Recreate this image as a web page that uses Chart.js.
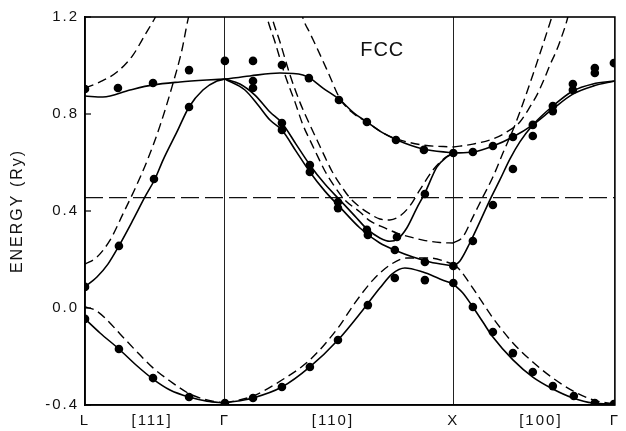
<!DOCTYPE html>
<html><head><meta charset="utf-8">
<script src="https://cdn.jsdelivr.net/npm/chart.js@4/dist/chart.umd.min.js"></script>
<style>html,body{margin:0;padding:0;background:#fff}</style>
</head><body>
<canvas id="c" width="626" height="431"></canvas>
<script>
// symmetry points along k path (units of 2π/a) and their labels
const kSym = [0, 0.415, 0.866, 1.535, 2.28, 2.822, 3.28];
const kLabels = ['L', '[111]', 'Γ', '[110]', 'X', '[100]', 'Γ'];
const eTicks = [-0.4, 0.0, 0.4, 0.8, 1.2];
const fermiE = 0.455;
const fermiLine = [[0, fermiE], [3.28, fermiE]];

// solid bands [k, E(Ry)]
const solidLGlow = [[0,-0.045],[0.093,-0.103],[0.21,-0.169],[0.316,-0.235],[0.421,-0.293],[0.526,-0.338],[0.644,-0.367],[0.755,-0.384],[0.866,-0.392]];
const solidLGmid = [[0,0.087],[0.074,0.128],[0.142,0.181],[0.21,0.256],[0.297,0.363],[0.371,0.458],[0.433,0.532],[0.483,0.610],[0.569,0.726],[0.644,0.829],[0.73,0.899],[0.817,0.936],[0.866,0.944]];
const solidLGtop = [[0,0.874],[0.111,0.870],[0.278,0.899],[0.421,0.920],[0.588,0.932],[0.755,0.940],[0.866,0.944]];
const solidGXtop = [[0.866,0.944],[1.021,0.957],[1.207,0.969],[1.349,0.961],[1.392,0.948],[1.473,0.907],[1.578,0.858],[1.658,0.808],[1.745,0.767],[1.844,0.722],[1.931,0.693],[2.092,0.656],[2.28,0.639]];
const solidGXc = [[0.866,0.944],[0.959,0.924],[1.052,0.878],[1.145,0.808],[1.219,0.763],[1.306,0.676],[1.392,0.590],[1.485,0.511],[1.578,0.445],[1.671,0.379],[1.745,0.326],[1.825,0.289],[1.887,0.275],[1.936,0.285],[1.992,0.330],[2.054,0.412],[2.104,0.474],[2.178,0.581],[2.240,0.623],[2.28,0.639]];
const solidGXd = [[0.866,0.944],[0.990,0.899],[1.071,0.837],[1.145,0.775],[1.219,0.734],[1.306,0.647],[1.392,0.561],[1.485,0.482],[1.578,0.416],[1.702,0.330],[1.825,0.268],[1.931,0.235],[2.030,0.210],[2.135,0.190],[2.28,0.173]];
const solidGXlow = [[0.866,-0.392],[1.040,-0.371],[1.219,-0.326],[1.392,-0.243],[1.566,-0.132],[1.720,-0.008],[1.825,0.082],[1.900,0.140],[1.980,0.165],[2.092,0.148],[2.197,0.120],[2.28,0.099]];
const solidXGlow = [[2.28,0.099],[2.339,0.062],[2.401,0.004],[2.463,-0.058],[2.525,-0.120],[2.649,-0.214],[2.772,-0.285],[2.896,-0.334],[3.020,-0.371],[3.144,-0.392],[3.28,-0.396]];
const solidXGrise = [[2.28,0.173],[2.321,0.194],[2.382,0.268],[2.444,0.355],[2.506,0.445],[2.568,0.528],[2.630,0.614],[2.692,0.685],[2.772,0.755],[2.896,0.833],[3.020,0.895],[3.144,0.924],[3.28,0.936]];
const solidXGtop = [[2.28,0.639],[2.401,0.643],[2.525,0.668],[2.649,0.705],[2.772,0.755],[2.896,0.821],[3.020,0.882],[3.144,0.915],[3.28,0.936]];

// dashed bands [k, E(Ry)]
const dashLGlow = [[0,0.004],[0.062,-0.008],[0.124,-0.041],[0.217,-0.107],[0.322,-0.181],[0.421,-0.247],[0.526,-0.301],[0.65,-0.355],[0.755,-0.379],[0.866,-0.392]];
const dashLGmid = [[0,0.181],[0.074,0.21],[0.155,0.28],[0.235,0.388],[0.309,0.491],[0.384,0.606],[0.464,0.751],[0.538,0.911],[0.6,1.064],[0.637,1.188],[0.656,1.237]];
const dashLGtop = [[0,0.907],[0.093,0.932],[0.198,0.973],[0.297,1.043],[0.371,1.126],[0.433,1.196],[0.464,1.237]];
const dashGXtop = [[1.337,1.229],[1.349,1.196],[1.392,1.134],[1.436,1.072],[1.504,0.973],[1.578,0.864],[1.658,0.804],[1.745,0.767],[1.844,0.722],[1.931,0.697],[2.092,0.672],[2.28,0.664]];
const dashGXa = [[1.145,1.237],[1.157,1.2],[1.207,1.097],[1.269,0.961],[1.330,0.849],[1.392,0.755],[1.436,0.693],[1.485,0.623],[1.528,0.565],[1.578,0.511],[1.640,0.454],[1.702,0.416],[1.764,0.388],[1.825,0.367],[1.887,0.363],[1.949,0.379],[2.011,0.421],[2.073,0.487],[2.154,0.569],[2.228,0.619],[2.28,0.639]];
const dashGXb = [[1.114,1.237],[1.126,1.2],[1.176,1.097],[1.238,0.961],[1.300,0.849],[1.349,0.755],[1.392,0.693],[1.442,0.623],[1.485,0.565],[1.535,0.511],[1.609,0.445],[1.702,0.396],[1.764,0.359],[1.856,0.330],[1.931,0.309],[2.011,0.293],[2.092,0.280],[2.197,0.270],[2.28,0.268]];
const dashGXhump = [[0.866,-0.392],[1.040,-0.363],[1.219,-0.297],[1.392,-0.214],[1.566,-0.082],[1.671,0.021],[1.782,0.115],[1.887,0.177],[1.993,0.206],[2.135,0.206],[2.28,0.181]];
const dashXGlow = [[2.28,0.181],[2.321,0.157],[2.401,0.082],[2.525,-0.041],[2.649,-0.144],[2.772,-0.223],[2.896,-0.289],[3.020,-0.342],[3.144,-0.379],[3.28,-0.396]];
const dashXGtop = [[2.28,0.664],[2.401,0.676],[2.525,0.697],[2.611,0.726],[2.692,0.767],[2.754,0.829],[2.797,0.878],[2.840,0.940],[2.878,1.002],[2.915,1.056],[2.939,1.097],[2.989,1.2],[3.001,1.237]];
const dashXGb = [[2.28,0.268],[2.339,0.293],[2.401,0.375],[2.463,0.458],[2.525,0.540],[2.587,0.639],[2.649,0.734],[2.692,0.808],[2.772,0.961],[2.834,1.085],[2.890,1.2],[2.908,1.237]];

// dots [k, E(Ry)]
const dotPts = [
[0,0.903],[0.204,0.907],[0.421,0.928],[0.644,0.981],[0.866,1.019],
[0,0.087],[0.21,0.256],[0.427,0.532],[0.644,0.829],
[0,-0.045],[0.21,-0.169],[0.421,-0.289],[0.644,-0.367],[0.866,-0.392],
[1.040,1.019],[1.219,1.002],[1.386,0.948],[1.572,0.858],[1.745,0.767],[1.925,0.693],[2.098,0.652],[2.28,0.639],
[1.040,0.936],[1.040,0.907],
[1.219,0.763],[1.219,0.734],[1.392,0.590],[1.392,0.561],[1.566,0.437],[1.566,0.412],[1.745,0.322],[1.751,0.301],[1.931,0.293],[1.918,0.239],[2.104,0.470],[2.104,0.190],[2.28,0.173],
[1.040,-0.371],[1.219,-0.326],[1.392,-0.243],[1.566,-0.132],[1.751,0.012],[1.918,0.124],[2.104,0.115],[2.28,0.103],
[2.401,0.643],[2.525,0.668],[2.649,0.705],[2.772,0.755],[2.772,0.709],[2.896,0.833],[2.896,0.812],[3.020,0.924],[3.020,0.899],[3.156,0.990],[3.156,0.969],[3.274,1.010],
[2.401,0.276],[2.525,0.425],[2.649,0.573],
[2.401,0.004],[2.525,-0.099],[2.649,-0.186],[2.772,-0.264],[2.896,-0.322],[3.026,-0.363],[3.156,-0.392],[3.274,-0.396]
];

const solidCurves = [solidLGlow, solidLGmid, solidLGtop, solidGXtop, solidGXc, solidGXd, solidGXlow, solidXGlow, solidXGrise, solidXGtop];
const dashCurves = [dashLGlow, dashLGmid, dashLGtop, dashGXtop, dashGXa, dashGXb, dashGXhump, dashXGlow, dashXGtop, dashXGb];

const xy = arr => arr.map(p => ({x: p[0], y: p[1]}));
const datasets = [];
datasets.push({data: xy(dotPts), showLine: false, pointRadius: 4.3, pointBackgroundColor: '#000', pointBorderWidth: 0});
solidCurves.forEach(c => datasets.push({data: xy(c), showLine: true, borderColor: '#000', borderWidth: 1.6, pointRadius: 0, cubicInterpolationMode: 'monotone', capBezierPoints: false}));
dashCurves.forEach(c => datasets.push({data: xy(c), showLine: true, borderColor: '#000', borderWidth: 1.4, borderDash: [9, 5], pointRadius: 0, cubicInterpolationMode: 'monotone', capBezierPoints: false}));
datasets.push({data: xy(fermiLine), showLine: true, borderColor: '#111', borderWidth: 1.3, borderDash: [18, 6], pointRadius: 0});

Chart.defaults.font.family = "'Liberation Sans', Arial, Helvetica, sans-serif";
Chart.defaults.color = '#111';

const decor = {
  id: 'decor',
  beforeDraw(chart) {
    const ctx = chart.ctx;
    ctx.fillStyle = '#fff';
    ctx.fillRect(0, 0, chart.width, chart.height);
    ctx.letterSpacing = '2px';
  },
  afterDraw(chart) {
    const ctx = chart.ctx, a = chart.chartArea;
    const xs = chart.scales.x, ys = chart.scales.y;
    ctx.save();
    ctx.strokeStyle = '#000';
    ctx.lineWidth = 1.6;
    ctx.strokeRect(a.left, a.top, a.right - a.left, a.bottom - a.top);
    ctx.lineWidth = 1.2;
    eTicks.forEach(v => {
      const py = ys.getPixelForValue(v);
      ctx.beginPath(); ctx.moveTo(a.left, py); ctx.lineTo(a.left + 6, py); ctx.stroke();
    });
    ctx.letterSpacing = '1px';
    ctx.fillStyle = '#111';
    ctx.font = "20px 'Liberation Sans', Arial, sans-serif";
    ctx.textAlign = 'center';
    ctx.textBaseline = 'middle';
    ctx.fillText('FCC', xs.getPixelForValue(1.84), ys.getPixelForValue(1.06));
    ctx.restore();
  }
};

new Chart(document.getElementById('c'), {
  type: 'scatter',
  data: {datasets},
  options: {
    responsive: false,
    animation: false,
    layout: {padding: {top: 17, right: 11, left: 0, bottom: 0}},
    plugins: {legend: {display: false}, tooltip: {enabled: false}},
    scales: {
      x: {
        type: 'linear', min: 0, max: 3.28,
        afterBuildTicks: s => { s.ticks = kSym.map(v => ({value: v})); },
        afterFit: s => { s.height = 26; },
        ticks: {autoSkip: false, maxRotation: 0, padding: 7, font: {size: 15}, color: '#111',
                callback: (v, i) => kLabels[i]},
        grid: {drawTicks: false, lineWidth: 1,
               color: c => (c.tick && (c.tick.value === 0.866 || c.tick.value === 2.28)) ? '#222' : 'rgba(0,0,0,0)'},
        border: {display: true, color: '#000', width: 1.6}
      },
      y: {
        type: 'linear', min: -0.4, max: 1.2,
        afterBuildTicks: s => { s.ticks = eTicks.map(v => ({value: v})); },
        afterFit: s => { s.width = 85; },
        ticks: {padding: 6, font: {size: 15}, color: '#111', callback: v => Number(v).toFixed(1)},
        grid: {drawOnChartArea: false, drawTicks: false},
        border: {display: true, color: '#000', width: 1.6},
        title: {display: true, text: 'ENERGY (Ry)', font: {size: 16}, color: '#111', padding: {top: 8, bottom: 0}}
      }
    }
  },
  plugins: [decor]
});
</script>
</body></html>
